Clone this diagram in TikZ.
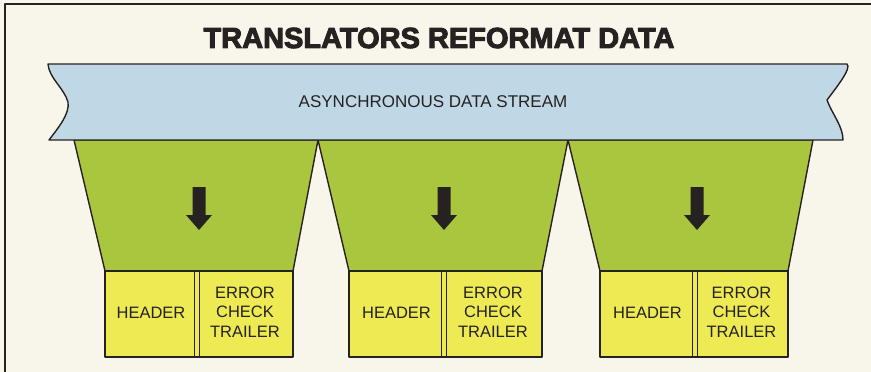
\documentclass[tikz,border=0pt]{standalone}
\usepackage{fontspec}
\setmainfont{Liberation Sans}
\newfontfamily\titlefont{Liberation Sans Bold}[FakeBold=3.5]
\definecolor{paper}{RGB}{248,245,235}
\definecolor{ink}{RGB}{38,34,34}
\definecolor{streamblue}{RGB}{192,216,229}
\definecolor{funnelgreen}{RGB}{170,197,62}
\definecolor{cellyellow}{RGB}{238,234,84}

\begin{document}
\begin{tikzpicture}[x=1pt,y=-1pt,line cap=round,line join=round,
  outline/.style={draw=ink,line width=1.4pt},
  funnel/.style={outline,fill=funnelgreen},
  cell/.style={outline,fill=cellyellow},
  label/.style={inner sep=0pt,text=ink,align=center,
    font=\fontsize{16.5}{19.5}\selectfont}]
  \fill[paper] (0,0) rectangle (871,372);
  \useasboundingbox (0,0) rectangle (871,372);
  % frame
  \draw[ink,line width=2pt,line cap=butt] (871,3.5) -- (5,3.5) -- (5,372);
  \node[text=ink,inner sep=0pt] (title) at (439,38)
    {\titlefont\fontsize{29}{32}\selectfont TRANSLATORS REFORMAT DATA};
  % three translators
  \foreach \i/\tl/\tr/\bl/\br/\dv/\ax in
    {1/74/318/105/293/197/199, 2/318/568/349/542/444/444, 3/568/813/600/788/695/697}{
    \draw[funnel] (\tl,140) -- (\bl,271) -- (\br,271) -- (\tr,140) -- cycle;
    \draw[cell] (\bl,271) rectangle (\br,357);
    \fill[cellyellow] (\dv-2,272) rectangle (\dv+2,356);
    \draw[ink,line width=1.2pt] (\dv-2.2,271) -- (\dv-2.2,357)
      (\dv+2.2,271) -- (\dv+2.2,357);
    \fill[ink] (\ax-6.5,187) -- (\ax+6.5,187) -- (\ax+6.5,215) -- (\ax+13,215)
      -- (\ax,230) -- (\ax-13,215) -- (\ax-6.5,215) -- cycle;
    \node[label] (hdr\i) at ({(\bl+\dv)/2},313) {HEADER};
    \node[label] (trl\i) at ({(\dv+\br)/2},312) {ERROR\\CHECK\\TRAILER};
  }
  % data stream band
  \draw[outline,fill=streamblue] (48,64) -- (847,64)
    .. controls (852,68) and (836,88) .. (827,100)
    .. controls (832,114) and (843,126) .. (843,140)
    -- (49,140)
    .. controls (58,128) and (70,114) .. (68,102)
    .. controls (64,88) and (49,78) .. (48,64) -- cycle;
  \node[text=ink,inner sep=0pt,font=\fontsize{17}{20}\selectfont] (stream)
    at (433,102) {ASYNCHRONOUS DATA STREAM};
\end{tikzpicture}
\end{document}
